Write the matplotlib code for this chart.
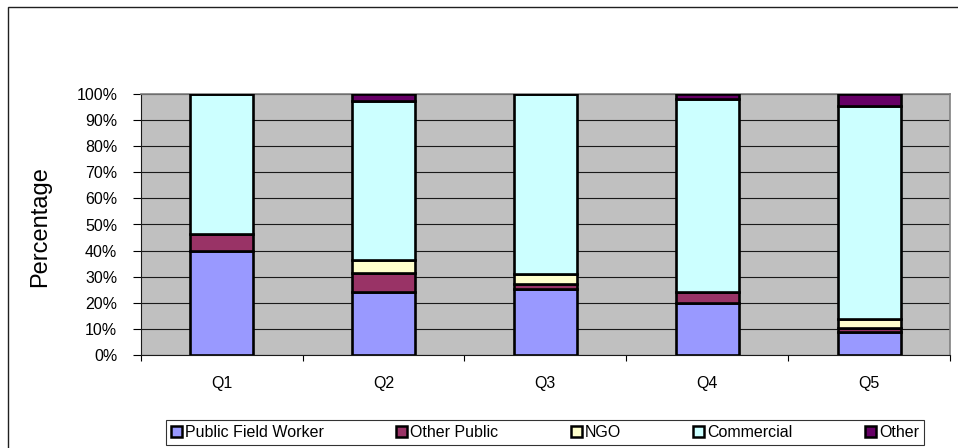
import numpy as np
import matplotlib
matplotlib.use("Agg")
import matplotlib.pyplot as plt
from matplotlib.patches import Rectangle, Patch

plt.rcParams['font.family'] = ['Liberation Sans', 'DejaVu Sans']

# data (percent of each quintile)
categories = ['Q1', 'Q2', 'Q3', 'Q4', 'Q5']
public_field = [40.0, 24.0, 25.3, 20.1, 8.7]
other_public = [6.5, 7.3, 1.9, 4.1, 1.5]
ngo = [0.0, 5.0, 3.7, 0.0, 3.5]
commercial = [53.5, 61.1, 69.1, 73.9, 81.6]
other = [0.0, 2.6, 0.0, 1.9, 4.7]

series_names = ['Public Field Worker', 'Other Public', 'NGO', 'Commercial', 'Other']
series_colors = ['#9999FF', '#993366', '#FFFFCC', '#CCFFFF', '#660066']
y_ticks = [0, 10, 20, 30, 40, 50, 60, 70, 80, 90, 100]
y_tick_labels = [f"{v}%" for v in y_ticks]

W, H = 958, 448
fig = plt.figure(figsize=(W / 100, H / 100), dpi=100)

# outer chart border (runs off the right and bottom edges)
fig.patches.append(Rectangle((8 / W, -0.2), 1.2, 1 - 6.5 / H + 0.2,
                             transform=fig.transFigure, fill=False,
                             edgecolor='#202020', linewidth=1.0))

ax = fig.add_axes([140.7 / W, 1 - 355 / H, (950 - 140.7) / W, (355 - 94) / H])
ax.set_facecolor('#C0C0C0')

x = np.arange(len(categories))
bottom = np.zeros(len(categories))
series = [public_field, other_public, ngo, commercial, other]
for vals, name, col in zip(series, series_names, series_colors):
    vals = np.array(vals)
    ax.bar(x, vals, width=0.39, bottom=bottom, color=col, edgecolor='black',
           linewidth=1.9, label=name, zorder=3)
    bottom += vals

ax.set_xlim(-0.5, len(categories) - 0.5)
ax.set_ylim(0, 100)
ax.set_yticks(y_ticks)
ax.set_yticklabels(y_tick_labels, fontsize=11.5)
ax.tick_params(axis='y', direction='out', length=5.8, width=0.8, pad=11)

ax.set_xticks(x)
ax.set_xticklabels(categories, fontsize=11.5)
ax.tick_params(axis='x', which='major', length=0, pad=15)
ax.set_xticks(np.arange(-0.5, len(categories)), minor=True)
ax.tick_params(axis='x', which='minor', direction='out', length=4.5, width=0.8)

ax.set_axisbelow(True)
ax.yaxis.grid(True, color='#1a1a1a', linewidth=0.8)
for side in ['top', 'right']:
    ax.spines[side].set_color('#808080')
    ax.spines[side].set_linewidth(1.2)
for side in ['left', 'bottom']:
    ax.spines[side].set_color('#1a1a1a')
    ax.spines[side].set_linewidth(0.8)

fig.text(40 / W, 1 - 227 / H, 'Percentage', rotation=90, ha='center',
         va='center', fontsize=17)

handles = [Patch(facecolor=c, edgecolor='black', linewidth=1.8) for c in series_colors]
leg = fig.legend(handles, series_names, loc='lower left',
                 bbox_to_anchor=(166 / W, 1 - 445 / H, (924 - 166) / W, 27 / H),
                 bbox_transform=fig.transFigure, mode='expand', ncol=5,
                 fontsize=11.5, frameon=True, fancybox=False, borderaxespad=0,
                 handlelength=0.7, handleheight=0.7, handletextpad=0.2,
                 columnspacing=0.8, borderpad=0.3)
leg.get_frame().set_edgecolor('black')
leg.get_frame().set_linewidth(0.8)

fig.savefig('out.png', dpi=100)
